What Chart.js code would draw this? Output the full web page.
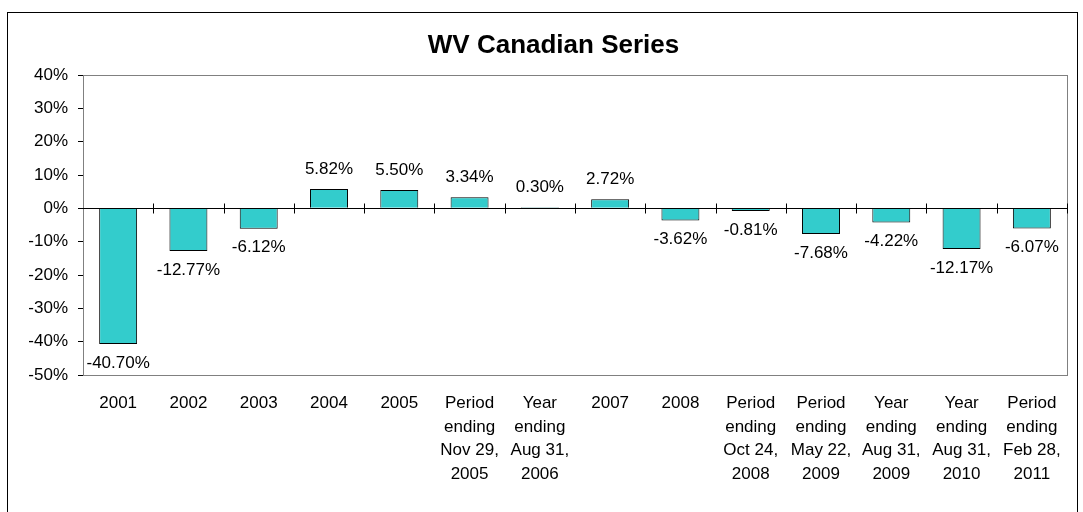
<!DOCTYPE html>
<html>
<head>
<meta charset="utf-8">
<script src="https://cdn.jsdelivr.net/npm/chart.js@4.4.0/dist/chart.umd.min.js"></script>
<style>
  body { margin: 0; background: #fff; }
  #box {
    position: absolute; left: 7px; top: 12px;
    width: 1069px; height: 520px;
    border: 1px solid #000; background: #fff;
  }
  #wrap { position: absolute; left: 0; top: 0; width: 1069px; height: 509px; }
</style>
</head>
<body>
<div id="box"><div id="wrap"><canvas id="wvChart"></canvas></div></div>
<script>
// Kategorier (x-axeln), flera rader per etikett
const periods = [
    ['2001'], ['2002'], ['2003'], ['2004'], ['2005'],
    ['Period', 'ending', 'Nov 29,', '2005'],
    ['Year', 'ending', 'Aug 31,', '2006'],
    ['2007'], ['2008'],
    ['Period', 'ending', 'Oct 24,', '2008'],
    ['Period', 'ending', 'May 22,', '2009'],
    ['Year', 'ending', 'Aug 31,', '2009'],
    ['Year', 'ending', 'Aug 31,', '2010'],
    ['Period', 'ending', 'Feb 28,', '2011']
];

// Avkastning i procent
const returns = [-40.70, -12.77, -6.12, 5.82, 5.50, 3.34, 0.30, 2.72, -3.62, -0.81, -7.68, -4.22, -12.17, -6.07];

// Y-axelns gränser
const yMin = -50;
const yMax = 40;
const yStep = 10;

const chartTitle = 'WV Canadian Series';
const font = 'Arial, "Liberation Sans", sans-serif';

// Rubriken ritas själv så att den hamnar som i originalet
const titlePlugin = {
    id: 'titlePlugin',
    afterDraw(chart) {
        const ctx = chart.ctx;
        ctx.save();
        ctx.font = 'bold 26px ' + font;
        ctx.fillStyle = '#000';
        ctx.textAlign = 'center';
        ctx.textBaseline = 'middle';
        ctx.fillText(chartTitle, chart.width / 2 + 11, 33);
        ctx.restore();
    }
};

// Ram runt ritytan (grå)
const frame = {
    id: 'frame',
    beforeDatasetsDraw(chart) {
        const a = chart.chartArea;
        const ctx = chart.ctx;
        ctx.save();
        ctx.strokeStyle = '#808080';
        ctx.lineWidth = 1;
        ctx.strokeRect(a.left + 0.5, a.top + 0.5, a.right - a.left, a.bottom - a.top);
        ctx.restore();
    }
};

// Nollinjen med streck mellan kategorierna
const zeroAxis = {
    id: 'zeroAxis',
    afterDatasetsDraw(chart) {
        const x = chart.scales.x;
        const y = chart.scales.y;
        const ctx = chart.ctx;
        const y0 = Math.round(y.getPixelForValue(0)) + 0.5;
        const half = (x.getPixelForValue(1) - x.getPixelForValue(0)) / 2;
        ctx.save();
        ctx.strokeStyle = '#000';
        ctx.lineWidth = 1;
        ctx.beginPath();
        ctx.moveTo(chart.chartArea.left, y0);
        ctx.lineTo(chart.chartArea.right, y0);
        for (let i = 1; i <= periods.length; i++) {
            const bx = Math.round(x.getPixelForValue(i) - half) + 0.5;
            ctx.moveTo(bx, y0 - 5);
            ctx.lineTo(bx, y0 + 5);
        }
        ctx.stroke();
        ctx.restore();
    }
};

// Värdeetiketter ovanför/under staplarna
const valueLabels = {
    id: 'valueLabels',
    afterDraw(chart) {
        const ctx = chart.ctx;
        const meta = chart.getDatasetMeta(0);
        ctx.save();
        ctx.font = '17px ' + font;
        ctx.fillStyle = '#000';
        ctx.textAlign = 'center';
        ctx.textBaseline = 'middle';
        meta.data.forEach((bar, i) => {
            const v = returns[i];
            const ty = v >= 0 ? Math.min(bar.y, bar.base) - 20 : Math.max(bar.y, bar.base) + 19;
            ctx.fillText(v.toFixed(2) + '%', bar.x, ty);
        });
        ctx.restore();
    }
};

new Chart(document.getElementById('wvChart'), {
    type: 'bar',
    data: {
        labels: periods,
        datasets: [{
            data: returns,
            backgroundColor: '#33CCCC',
            borderColor: '#000',
            borderWidth: 1,
            categoryPercentage: 1,
            barPercentage: 0.54
        }]
    },
    options: {
        responsive: true,
        maintainAspectRatio: false,
        animation: false,
        layout: { padding: { left: 0, right: 10, top: 62, bottom: 0 } },
        plugins: {
            legend: { display: false },
            tooltip: { enabled: false },
            title: { display: false }
        },
        scales: {
            x: {
                grid: { display: false },
                border: { display: false },
                ticks: {
                    color: '#000',
                    font: { family: font, size: 17, lineHeight: 1.38 },
                    maxRotation: 0,
                    autoSkip: false,
                    padding: 9
                },
                afterFit(scale) { scale.height = 147; }
            },
            y: {
                min: yMin,
                max: yMax,
                ticks: {
                    stepSize: yStep,
                    color: '#000',
                    font: { family: font, size: 17 },
                    padding: 10,
                    callback: v => v + '%'
                },
                grid: { drawOnChartArea: false, tickLength: 5, color: '#000' },
                border: { color: '#000' },
                afterFit(scale) { scale.width = 75; }
            }
        }
    },
    plugins: [frame, zeroAxis, valueLabels, titlePlugin]
});
</script>
</body>
</html>
